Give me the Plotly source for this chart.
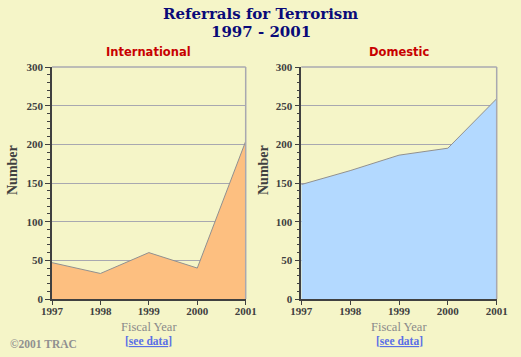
import plotly.graph_objects as go

years = [1997, 1998, 1999, 2000, 2001]
international = [47, 33, 60, 40, 204]
domestic = [148, 166, 186, 195, 259]
y_ticks = [0, 50, 100, 150, 200, 250, 300]

BG = "#F5F5C8"
AXIS = "#404040"
GRID = "#A8A8B0"

fig = go.Figure()
fig.add_trace(go.Scatter(x=years, y=international, mode="lines", fill="tozeroy",
                         line=dict(color="#909090", width=1), fillcolor="#FDBF80",
                         xaxis="x", yaxis="y", showlegend=False, hoverinfo="x+y"))
fig.add_trace(go.Scatter(x=years, y=domestic, mode="lines", fill="tozeroy",
                         line=dict(color="#909090", width=1), fillcolor="#B3D9FF",
                         xaxis="x2", yaxis="y2", showlegend=False, hoverinfo="x+y"))

tickfont = dict(family="Liberation Serif", size=11, color=AXIS, weight="bold")

def xax(domain, anchor):
    return dict(domain=domain, anchor=anchor, range=[1997, 2001], tickvals=years,
                ticktext=[str(y) for y in years], showgrid=False, zeroline=False,
                showline=True, linecolor=AXIS, linewidth=1.5, ticks="outside",
                ticklen=4, tickcolor=AXIS, tickfont=tickfont, fixedrange=True,
                automargin=False, ticklabelstandoff=-3)

def yax(domain, anchor):
    return dict(domain=domain, anchor=anchor, range=[0, 300], tickvals=y_ticks,
                showgrid=True, gridcolor=GRID, gridwidth=1, zeroline=False,
                showline=True, linecolor=AXIS, linewidth=1.5, ticks="outside",
                ticklen=5, tickcolor=AXIS, tickfont=tickfont,
                minor=dict(dtick=10, ticks="outside", ticklen=3, tickcolor=AXIS, showgrid=False),
                fixedrange=True, automargin=False)

ydom = [1 - 299 / 357, 1 - 67 / 357]
fig.update_layout(
    width=521, height=357, autosize=False,
    margin=dict(l=0, r=0, t=0, b=0, pad=0),
    paper_bgcolor=BG, plot_bgcolor=BG,
    xaxis=xax([52 / 521, 245.7 / 521], "y"),
    yaxis=yax(ydom, "x"),
    xaxis2=xax([301.3 / 521, 496.7 / 521], "y2"),
    yaxis2=yax(ydom, "x2"),
)

# right/top borders
for xr, yr in [("x domain", "y domain"), ("x2 domain", "y2 domain")]:
    fig.add_shape(type="line", xref=xr, yref=yr, x0=1, x1=1, y0=0, y1=1,
                  line=dict(color=GRID, width=1.5))
    fig.add_shape(type="line", xref=xr, yref=yr, x0=0, x1=1, y0=1, y1=1,
                  line=dict(color=GRID, width=1.5))

title_font = dict(family="DejaVu Serif", size=15, color="#0A0A78", weight="bold")
ann = []
ann.append(dict(text="Referrals for Terrorism", x=0.5, y=1 - 14.5 / 357,
                xref="paper", yref="paper", xanchor="center", yanchor="middle",
                showarrow=False, font=title_font))
ann.append(dict(text="1997 - 2001", x=0.5, y=1 - 31.5 / 357,
                xref="paper", yref="paper", xanchor="center", yanchor="middle",
                showarrow=False, font=title_font))
for cx, txt, nx in [((52 + 245.7) / 2 / 521, "International", 12),
                    ((301.3 + 496.7) / 2 / 521, "Domestic", 263)]:
    ann.append(dict(text=txt, x=cx, y=1 - 52 / 357, xref="paper", yref="paper",
                    xanchor="center", yanchor="middle", showarrow=False,
                    font=dict(family="DejaVu Sans", size=11.5, color="#C80000", weight="bold")))
    ann.append(dict(text="Fiscal Year", x=cx, y=1 - 326.5 / 357, xref="paper", yref="paper",
                    xanchor="center", yanchor="middle", showarrow=False,
                    font=dict(family="Liberation Serif", size=12.5, color="#8A8A8A")))
    ann.append(dict(text="[<u>see data</u>]", x=cx, y=1 - 340.5 / 357, xref="paper", yref="paper",
                    xanchor="center", yanchor="middle", showarrow=False,
                    font=dict(family="Liberation Serif", size=11.5, color="#5A6EE6", weight="bold")))
    ann.append(dict(text="Number", x=nx / 521, y=1 - 170 / 357, xref="paper", yref="paper",
                    xanchor="center", yanchor="middle", showarrow=False, textangle=-90,
                    font=dict(family="Liberation Serif", size=14, color=AXIS, weight="bold")))
ann.append(dict(text="©2001 TRAC", x=8 / 521, y=1 - 344 / 357, xref="paper", yref="paper",
                xanchor="left", yanchor="middle", showarrow=False,
                font=dict(family="Liberation Serif", size=11.5, color="#909090", weight="bold")))
fig.update_layout(annotations=ann)

fig.write_html("out.html", config={"displayModeBar": False},
               post_script="document.body.style.margin='0';document.body.style.overflow='hidden';")
